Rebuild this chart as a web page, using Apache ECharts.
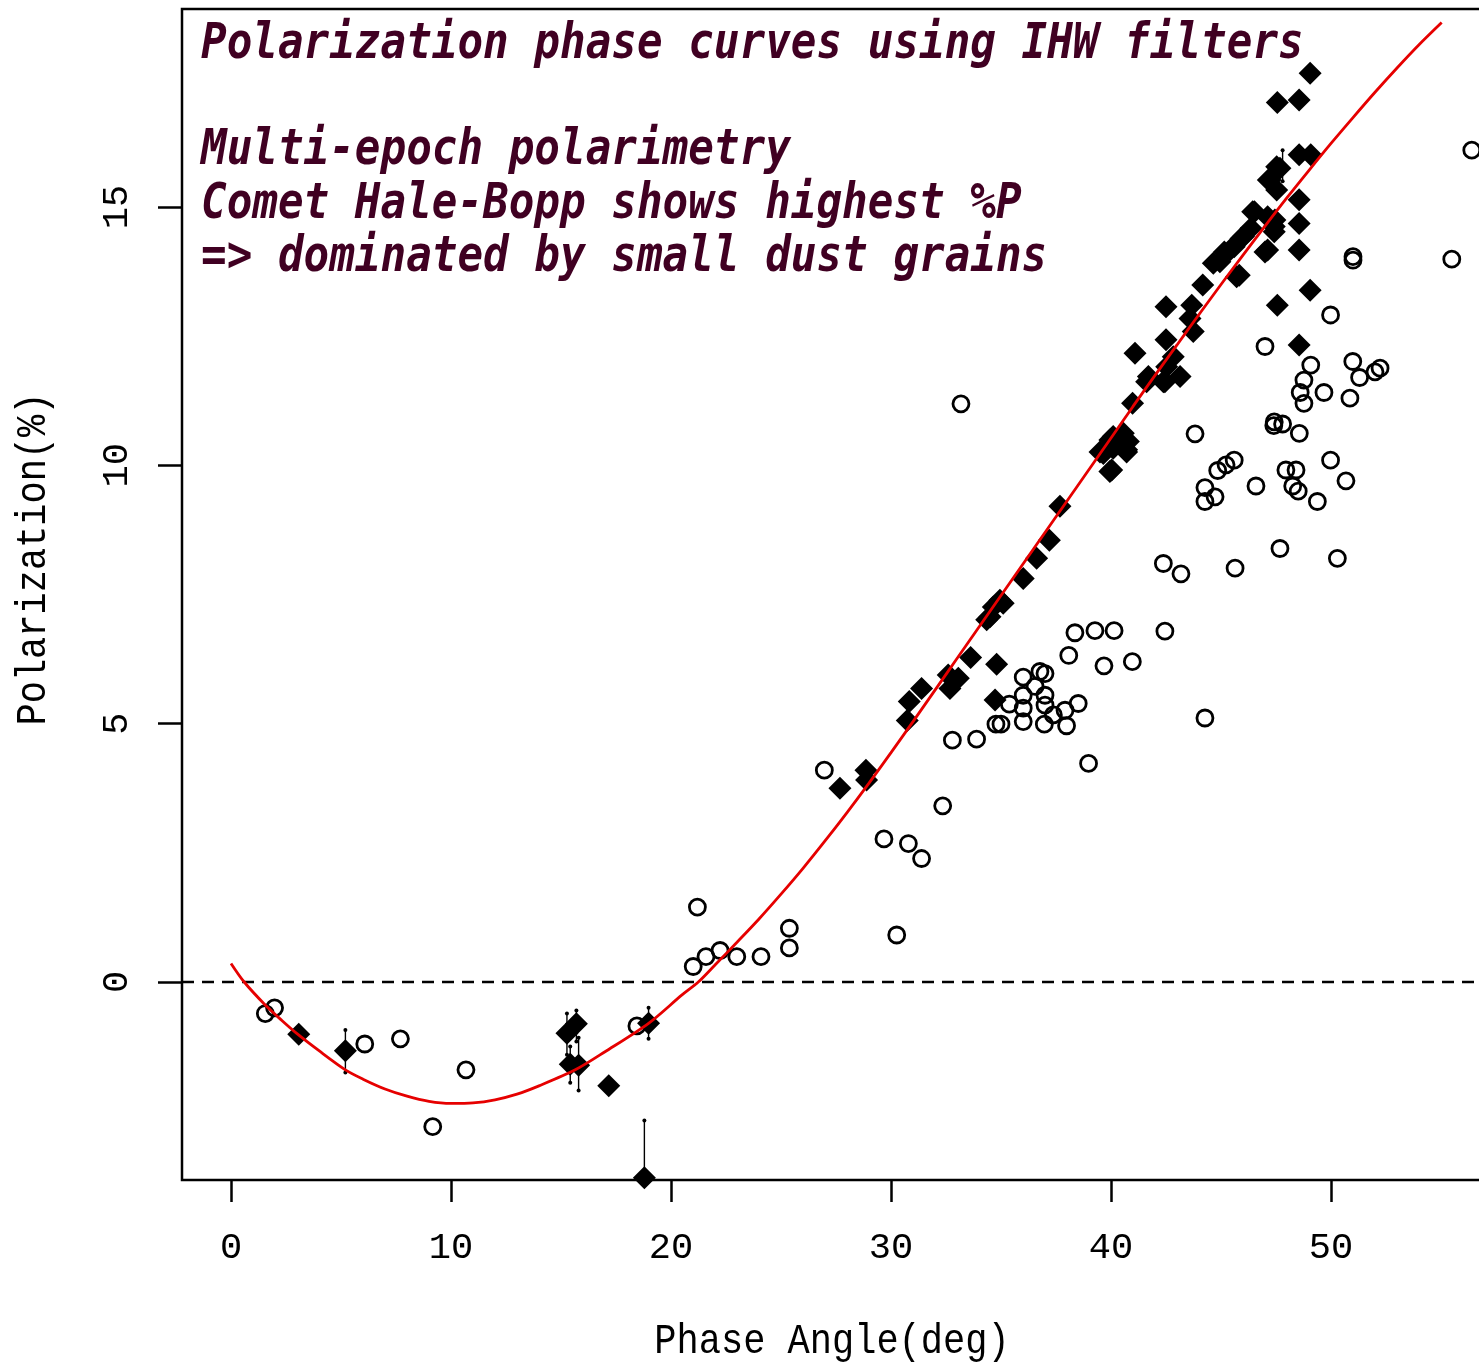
<!DOCTYPE html>
<html><head><meta charset="utf-8">
<script src="https://cdn.jsdelivr.net/npm/echarts@6/dist/echarts.min.js"></script>
<style>html,body{margin:0;padding:0;overflow:hidden;background:#fff}#c{width:1500px;height:1362px}</style>
</head><body><div id="c"></div><script>
// tick labels
const xTicks = [0, 10, 20, 30, 40, 50];
const yTicks = [0, 5, 10, 15];
// Comet Hale-Bopp (filled diamonds) [phase angle, polarization]
const haleBopp = [
  [3.08,-1.01],[5.2,-1.33],[15.27,-0.99],[15.70,-0.81],[15.42,-1.59],[15.80,-1.61],[17.17,-2.01],[18.98,-0.80],[18.79,-3.79],
  [27.68,3.75],[28.86,4.10],[28.89,3.91],[30.74,5.06],[30.83,5.43],[31.39,5.68],[32.6,5.94],[32.68,5.68],[33.06,5.88],[33.62,6.28],
  [34.8,6.15],[34.73,5.46],[34.35,7.01],[34.5,7.07],[34.65,7.26],[34.95,7.39],[35.1,7.33],[36.01,7.81],[36.62,8.20],[37.2,8.55],[37.68,9.21],
  [39.5,10.26],[39.65,10.23],[39.95,9.88],[40.03,9.91],[39.95,10.49],[40.1,10.33],[40.1,10.56],[40.56,10.62],[40.56,10.49],[40.71,10.26],
  [40.71,10.30],[40.79,10.46],[40.98,11.2],[41.09,12.17],[41.62,11.62],[41.7,11.72],[42.38,11.62],[42.45,11.62],[42.53,11.91],[42.83,12.10],
  [43.14,11.72],[42.5,12.43],[42.5,13.07],[43.67,13.10],[43.59,12.84],[43.74,12.59],[44.17,13.49],[44.65,13.91],[44.95,13.94],[45.15,14.13],
  [45.41,14.17],[45.6,14.23],[45.71,13.65],[45.83,13.68],[45.91,14.39],[46.02,14.43],[46.36,14.59],[46.44,14.91],[46.52,14.91],[47.0,14.13],
  [47.12,14.17],[47.12,14.81],[47.42,14.52],[47.42,14.62],[47.45,14.75],[47.15,15.52],[47.23,15.52],[47.53,15.33],[47.53,15.78],[47.68,15.75],
  [48.55,16.01],[49.08,16.01],[47.56,17.02],[48.55,17.07],[49.05,17.59],[48.55,15.14],[48.55,14.68],[48.55,14.17],[49.05,13.39],[47.56,13.10],[48.55,12.33]
];
// other comets (open circles)
const otherComets = [
  [1.56,-0.61],[1.98,-0.50],[6.08,-1.20],[7.70,-1.10],[10.68,-1.70],[9.17,-2.80],[18.45,-0.85],
  [21.2,1.45],[21.01,0.30],[21.59,0.49],[22.23,0.61],[22.99,0.49],[24.09,0.49],[25.38,1.04],[25.38,0.66],[30.26,0.91],
  [26.97,4.10],[32.35,3.41],[29.68,2.77],[30.79,2.68],[31.39,2.39],[32.79,4.68],[33.89,4.70],[34.77,4.99],[35.0,4.99],[35.38,5.38],
  [36.01,5.90],[36.77,6.01],[37.0,5.97],[36.01,5.55],[36.01,5.30],[36.55,5.72],[37.0,5.55],[37.0,5.36],[36.01,5.04],[36.97,4.99],
  [37.38,5.17],[37.91,5.26],[37.98,4.96],[38.51,5.39],[38.36,6.76],[39.27,6.80],[40.14,6.80],[38.08,6.32],[39.68,6.12],[40.97,6.20],
  [38.98,4.23],[33.18,11.19],[42.38,8.10],[43.18,7.90],[42.45,6.79],[44.27,5.11],
  [49.98,12.91],[47.0,12.30],[49.08,11.94],[50.99,12.01],[51.3,11.70],[52.0,11.81],[52.23,11.88],[48.77,11.65],[48.6,11.41],[49.68,11.41],
  [48.77,11.20],[50.86,11.30],[43.82,10.61],[47.42,10.84],[47.8,10.80],[47.4,10.77],[48.56,10.62],[45.6,10.10],[45.23,10.01],[44.85,9.90],
  [47.95,9.91],[48.41,9.91],[49.98,10.10],[46.59,9.60],[44.27,9.57],[44.73,9.39],[44.27,9.30],[48.26,9.60],[48.51,9.50],[49.38,9.30],
  [50.68,9.70],[47.68,8.39],[45.64,8.01],[50.29,8.20],[56.4,16.10],[51.0,14.04],[51.0,13.97],[55.49,13.99]
];
// error bars [x, top, bottom]
const errorBars = [
  [5.2,-0.93,-1.75],[15.27,-0.61,-1.41],[15.70,-0.55,-1.15],[15.42,-1.25,-1.95],[15.80,-1.08,-2.10],
  [18.98,-0.50,-1.10],[18.79,-2.68,-3.83],[47.8,16.1,15.5]
];
// fitted phase curve
const fitX = [0,0.6,1.5,2.3,3,4,5.2,6,7,8,9,10,11,12,13,14,15.65,17,18.98,20.5,21.24,22,23,24,25,26,27,28,29,30,31,32,33,34,35,36,37,38,39,40,41,42,43,44,45,46,47,48,49,50,51,52,53,54,55.03];
const fitY = [0.36,0,-0.42,-0.74,-1.0,-1.33,-1.70,-1.88,-2.07,-2.21,-2.31,-2.35,-2.34,-2.28,-2.17,-2.01,-1.70,-1.35,-0.80,-0.25,0,0.33,0.77,1.22,1.70,2.20,2.73,3.28,3.85,4.44,5.04,5.65,6.26,6.87,7.48,8.09,8.70,9.31,9.92,10.53,11.14,11.74,12.33,12.92,13.50,14.07,14.63,15.18,15.71,16.23,16.73,17.22,17.69,18.14,18.57];
const titleLines = ['Polarization phase curves using IHW filters','Multi-epoch polarimetry','Comet Hale-Bopp shows highest %P','=> dominated by small dust grains'];

const chart = echarts.init(document.getElementById('c'));
const axisFont = 'Liberation Mono';
const titleColor = '#400022';
const titleY = [45, 151, 205, 258];
chart.setOption({
  animation: false,
  backgroundColor: '#fff',
  grid: {left: 182, top: 9, width: 1300, height: 1171, show: true, borderColor: '#000', borderWidth: 2.5, containLabel: false},
  xAxis: {
    type: 'value', min: -2.2273, max: 56.8636, position: 'bottom',
    axisLine: {show: false, onZero: false}, splitLine: {show: false},
    axisTick: {show: true, customValues: xTicks, length: 22, lineStyle: {color: '#000', width: 2.5}},
    axisLabel: {customValues: xTicks, margin: 50, fontSize: 37, fontFamily: axisFont, color: '#000'}
  },
  yAxis: {
    type: 'value', min: -3.832, max: 18.832, position: 'left',
    axisLine: {show: false, onZero: false}, splitLine: {show: false},
    axisTick: {show: true, customValues: yTicks, length: 24, lineStyle: {color: '#000', width: 2.5}},
    axisLabel: {customValues: yTicks, rotate: 90, margin: 46, fontSize: 37, fontFamily: axisFont, color: '#000'}
  },
  graphic: [
    ...titleLines.map((t, i) => ({type: 'text', x: 201, y: titleY[i], scaleY: 1.15, z: 100,
      style: {text: t, font: 'italic bold 42.6px "DejaVu Sans Mono"', fill: titleColor, verticalAlign: 'middle', align: 'left'}})),
    {type: 'text', x: 832, y: 1342, scaleY: 1.15, style: {text: 'Phase Angle(deg)', font: '37px "Liberation Mono"', fill: '#000', align: 'center', verticalAlign: 'middle'}},
    {type: 'text', x: 34, y: 559, rotation: Math.PI / 2, scaleY: 1.15, style: {text: 'Polarization(%)', font: '37px "Liberation Mono"', fill: '#000', align: 'center', verticalAlign: 'middle'}}
  ],
  series: [
    {type: 'scatter', data: otherComets, symbol: 'circle', symbolSize: 16, z: 2,
      itemStyle: {color: 'rgba(0,0,0,0)', borderColor: '#000', borderWidth: 2.8, opacity: 1}},
    {type: 'scatter', data: haleBopp, symbol: 'diamond', symbolSize: 23, z: 3, itemStyle: {color: '#000', opacity: 1}},
    {type: 'custom', z: 4, data: errorBars,
      renderItem: function (params, api) {
        const p1 = api.coord([api.value(0), api.value(1)]);
        const p2 = api.coord([api.value(0), api.value(2)]);
        const st = {stroke: '#000', lineWidth: 1.4};
        return {type: 'group', children: [
          {type: 'line', shape: {x1: p1[0], y1: p1[1], x2: p2[0], y2: p2[1]}, style: st},
          {type: 'circle', shape: {cx: p1[0], cy: p1[1], r: 2}, style: {fill: '#000'}},
          {type: 'circle', shape: {cx: p2[0], cy: p2[1], r: 2}, style: {fill: '#000'}}
        ]};
      }},
    {type: 'line', data: fitX.map((x, i) => [x, fitY[i]]), smooth: 0.3, showSymbol: false, z: 5,
      lineStyle: {color: '#e60000', width: 2.8},
      markLine: {silent: true, symbol: ['none', 'none'], label: {show: false},
        lineStyle: {color: '#000', type: [12, 8], width: 2.4}, data: [{yAxis: 0}]}}
  ]
});
</script></body></html>
